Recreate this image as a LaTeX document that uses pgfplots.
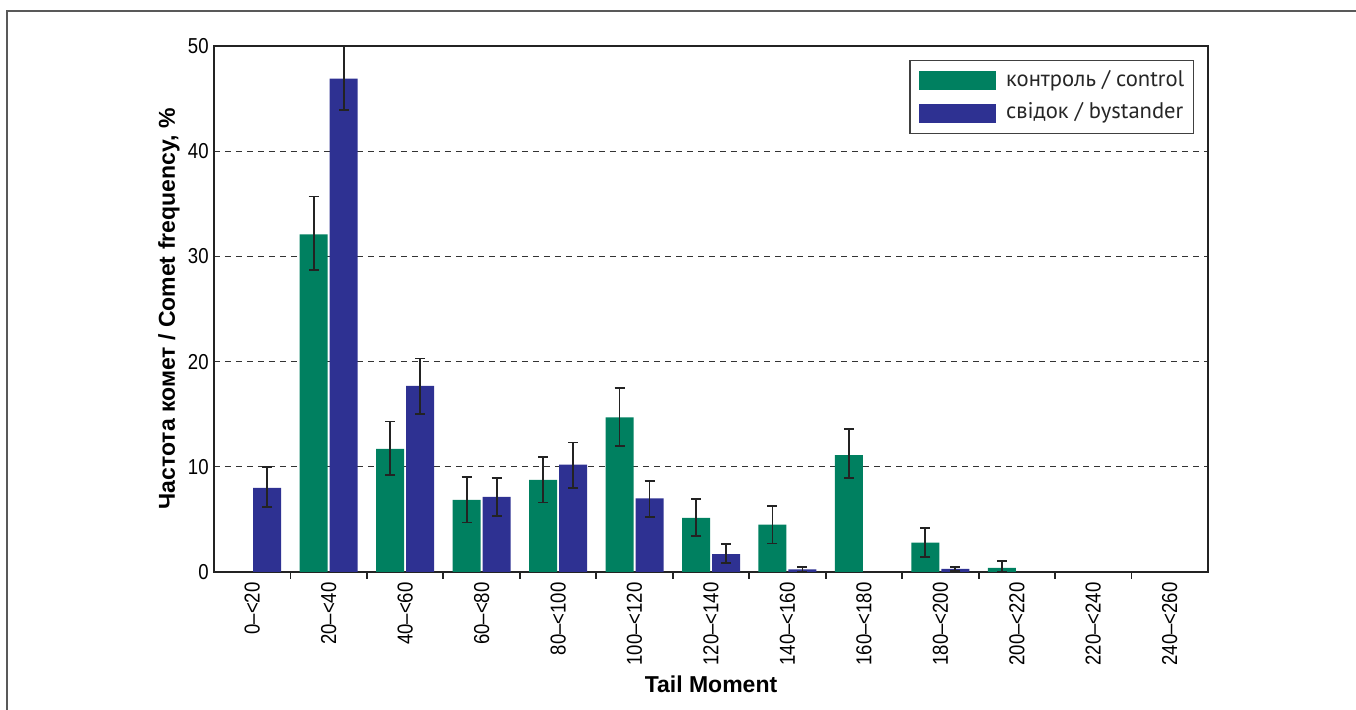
\documentclass[border=0pt]{standalone}
\usepackage{pgfplots}
\pgfplotsset{compat=1.18}
\usepackage{pgfplotstable}
\usepackage{fontspec}
\setmainfont{Liberation Sans}
\newfontfamily\tickfont[FakeStretch=0.86]{Liberation Sans}
\newfontfamily\legendfont{PT Sans}

\definecolor{ctrlgreen}{RGB}{0,128,96}
\definecolor{bysblue}{RGB}{46,49,146}
\definecolor{axisgray}{RGB}{35,35,35}

% Comet frequency (%) per Tail Moment class, with error bar extents
% x: class index (0 = 0-<20, ..., 12 = 240-<260)
\pgfplotstableread{
x  y     ep    em
1  32.1  3.6   3.4
2  11.7  2.6   2.5
3  6.85  2.15  2.15
4  8.75  2.15  2.15
5  14.7  2.8   2.7
6  5.15  1.8   1.75
7  4.5   1.8   1.8
8  11.1  2.5   2.2
9  2.8   1.4   1.35
10 0.4   0.65  0.4
}\controldata

\pgfplotstableread{
x  y     ep    em
0  8.0   2.0   1.8
1  46.9  3.1   3.0
2  17.7  2.6   2.7
3  7.15  1.75  1.85
4  10.2  2.1   2.2
5  7.0   1.65  1.8
6  1.7   0.95  0.85
7  0.25  0.25  0.25
9  0.3   0.2   0.2
}\bystanderdata

\begin{document}
\begin{tikzpicture}
\useasboundingbox (-107pt,-69pt) rectangle (571pt,286pt);
% page frame (left and top rules)
\draw[line width=1pt, black!65] (-103.5pt,-69pt) -- (-103.5pt,280.5pt) -- (571pt,280.5pt);
\begin{axis}[
  at={(0,0)}, anchor=south west,
  scale only axis, width=497pt, height=263pt,
  xmin=-0.5, xmax=12.5, ymin=0, ymax=50,
  clip=false,
  ybar=1pt, bar width=14pt,
  axis line style={axisgray, line width=0.9pt},
  xtick={0,...,12},
  xticklabels={0\textendash<20,20\textendash<40,40\textendash<60,60\textendash<80,
    80\textendash<100,100\textendash<120,120\textendash<140,140\textendash<160,
    160\textendash<180,180\textendash<200,200\textendash<220,220\textendash<240,
    240\textendash<260},
  minor xtick={0.5,1.5,...,11.5},
  ytick={0,10,...,50},
  xtick pos=left, ytick pos=left,
  tick align=outside,
  major tick length=0pt, minor tick length=3.5pt,
  tick style={axisgray, line width=0.9pt},
  ymajorgrids,
  major grid style={dash pattern=on 3pt off 2.5pt, black!80, line width=0.5pt},
  /pgf/number format/assume math mode=true,
  xticklabel style={font=\tickfont\fontsize{10.8}{12}\selectfont, rotate=90, anchor=east, inner xsep=5pt, inner ysep=0pt},
  yticklabel style={font=\tickfont\fontsize{10.8}{12}\selectfont, inner xsep=2.5pt},
  xlabel={Tail Moment},
  xlabel style={font=\bfseries\fontsize{11.5}{13}\selectfont, at={([yshift=-56pt]axis description cs:0.5,0)}, anchor=center},
  ylabel={Частота комет / Comet frequency, \%},
  ylabel style={font=\bfseries\fontsize{11.5}{13}\selectfont, at={([xshift=-22.5pt]axis description cs:0,0.5)}, anchor=center},
  legend image code/.code={\fill[#1] (0pt,-4.75pt) rectangle (38.5pt,4.75pt);},
  legend style={at={(1,1)}, anchor=north east, xshift=-7pt, yshift=-7pt,
    draw=black!75, line width=0.7pt, inner xsep=4.5pt, inner ysep=4.75pt,
    column sep=5pt, row sep=5.75pt,
    font=\legendfont\fontsize{11.3}{13}\selectfont,
    nodes={inner sep=0pt, text height=8pt, text depth=2.5pt, text=black!85},
    cells={anchor=west}},
  legend cell align=left,
  error bars/y dir=both, error bars/y explicit,
  error bars/error mark=|,
  error bars/error bar style={axisgray, line width=0.9pt},
  error bars/error mark options={axisgray, line width=0.9pt, mark size=2.5pt},
]
\addplot[fill=ctrlgreen, draw=none]
  table[x=x, y=y, y error plus=ep, y error minus=em] {\controldata};
\addplot[fill=bysblue, draw=none]
  table[x=x, y=y, y error plus=ep, y error minus=em] {\bystanderdata};
\legend{контроль / control, свідок / bystander}
\end{axis}
\end{tikzpicture}
\end{document}
